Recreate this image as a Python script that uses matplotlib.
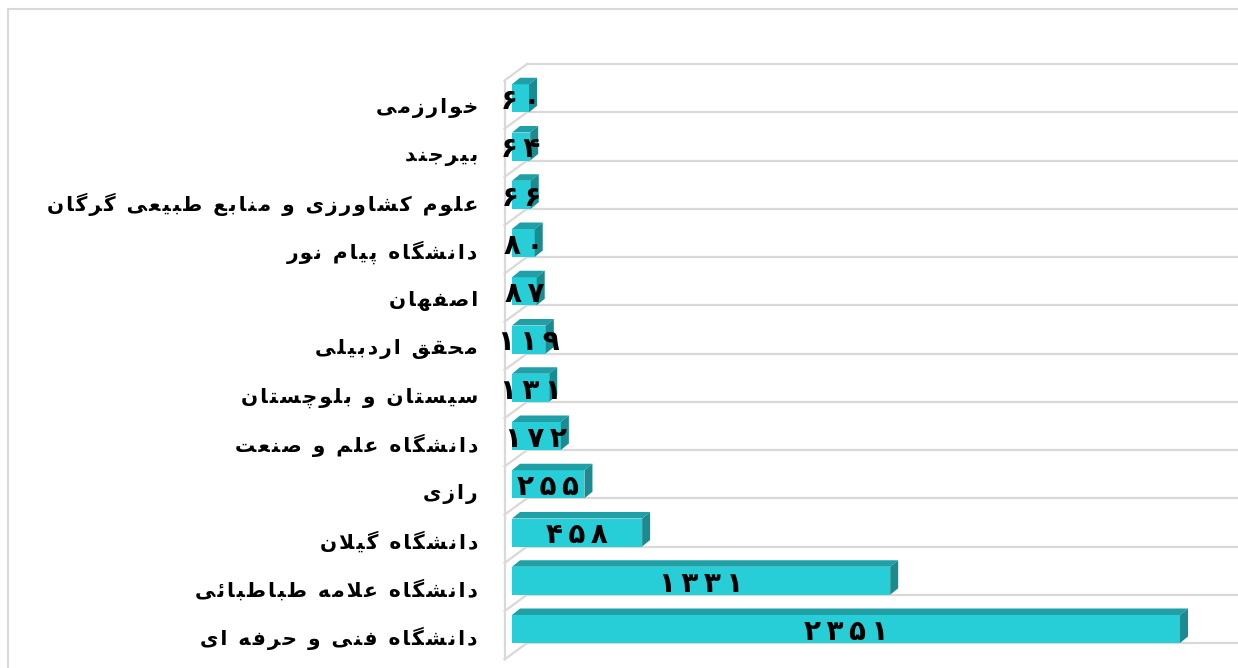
import matplotlib
matplotlib.use("Agg")
import matplotlib.pyplot as plt
from matplotlib.patches import Polygon, Rectangle

# ---------------- data ----------------
categories = [
    "خوارزمی",
    "بیرجند",
    "علوم کشاورزی و منابع طبیعی گرگان",
    "دانشگاه پیام نور",
    "اصفهان",
    "محقق اردبیلی",
    "سیستان و بلوچستان",
    "دانشگاه علم و صنعت",
    "رازی",
    "دانشگاه گیلان",
    "دانشگاه علامه طباطبائی",
    "دانشگاه فنی و حرفه ای",
]
values = [60, 64, 66, 80, 87, 119, 131, 172, 255, 458, 1331, 2351]

# ---------------- simple Arabic/Persian shaper ----------------
FORMS = {
    # char: (isolated, final, initial, medial)  None => right-joining only
    "\u0627": ("\uFE8D", "\uFE8E", None, None),
    "\u0628": ("\uFE8F", "\uFE90", "\uFE91", "\uFE92"),
    "\u062A": ("\uFE95", "\uFE96", "\uFE97", "\uFE98"),
    "\u062B": ("\uFE99", "\uFE9A", "\uFE9B", "\uFE9C"),
    "\u062C": ("\uFE9D", "\uFE9E", "\uFE9F", "\uFEA0"),
    "\u062D": ("\uFEA1", "\uFEA2", "\uFEA3", "\uFEA4"),
    "\u062E": ("\uFEA5", "\uFEA6", "\uFEA7", "\uFEA8"),
    "\u062F": ("\uFEA9", "\uFEAA", None, None),
    "\u0630": ("\uFEAB", "\uFEAC", None, None),
    "\u0631": ("\uFEAD", "\uFEAE", None, None),
    "\u0632": ("\uFEAF", "\uFEB0", None, None),
    "\u0633": ("\uFEB1", "\uFEB2", "\uFEB3", "\uFEB4"),
    "\u0634": ("\uFEB5", "\uFEB6", "\uFEB7", "\uFEB8"),
    "\u0635": ("\uFEB9", "\uFEBA", "\uFEBB", "\uFEBC"),
    "\u0636": ("\uFEBD", "\uFEBE", "\uFEBF", "\uFEC0"),
    "\u0637": ("\uFEC1", "\uFEC2", "\uFEC3", "\uFEC4"),
    "\u0638": ("\uFEC5", "\uFEC6", "\uFEC7", "\uFEC8"),
    "\u0639": ("\uFEC9", "\uFECA", "\uFECB", "\uFECC"),
    "\u063A": ("\uFECD", "\uFECE", "\uFECF", "\uFED0"),
    "\u0641": ("\uFED1", "\uFED2", "\uFED3", "\uFED4"),
    "\u0642": ("\uFED5", "\uFED6", "\uFED7", "\uFED8"),
    "\u0643": ("\uFED9", "\uFEDA", "\uFEDB", "\uFEDC"),
    "\u0644": ("\uFEDD", "\uFEDE", "\uFEDF", "\uFEE0"),
    "\u0645": ("\uFEE1", "\uFEE2", "\uFEE3", "\uFEE4"),
    "\u0646": ("\uFEE5", "\uFEE6", "\uFEE7", "\uFEE8"),
    "\u0647": ("\uFEE9", "\uFEEA", "\uFEEB", "\uFEEC"),
    "\u0648": ("\uFEED", "\uFEEE", None, None),
    "\u0649": ("\uFEEF", "\uFEF0", None, None),
    "\u064A": ("\uFEF1", "\uFEF2", "\uFEF3", "\uFEF4"),
    "\u0626": ("\uFE89", "\uFE8A", "\uFE8B", "\uFE8C"),
    "\u067E": ("\uFB56", "\uFB57", "\uFB58", "\uFB59"),
    "\u0686": ("\uFB7A", "\uFB7B", "\uFB7C", "\uFB7D"),
    "\u0698": ("\uFB8A", "\uFB8B", None, None),
    "\u06A9": ("\uFB8E", "\uFB8F", "\uFB90", "\uFB91"),
    "\u06AF": ("\uFB92", "\uFB93", "\uFB94", "\uFB95"),
    "\u06CC": ("\uFBFC", "\uFBFD", "\uFBFE", "\uFBFF"),
}


def dual(c):
    return c in FORMS and FORMS[c][2] is not None


def joins(c):
    return c in FORMS


def shape(text, gap="\u200A"):
    words = []
    for word in text.split(" "):
        out = []
        i = 0
        n = len(word)
        while i < n:
            c = word[i]
            prev = word[i - 1] if i > 0 else ""
            nxt = word[i + 1] if i + 1 < n else ""
            jp = dual(prev) and joins(c)
            if c == "\u0644" and nxt == "\u0627":
                out.append("\uFEFC" if jp else "\uFEFB")
                i += 2
                continue
            if c not in FORMS:
                out.append(c)
                i += 1
                continue
            jn = dual(c) and joins(nxt)
            iso, fin, ini, med = FORMS[c]
            if jp and jn:
                out.append(med)
            elif jp:
                out.append(fin)
            elif jn:
                out.append(ini)
            else:
                out.append(iso)
            i += 1
        words.append(gap.join(out[::-1]))
    return " \u2009".join(words[::-1])


PDIG = "۰۱۲۳۴۵۶۷۸۹"


def pnum(v):
    return "\u2009".join(PDIG[int(d)] for d in str(v))


# ---------------- figure ----------------
W, H = 1238, 668
fig = plt.figure(figsize=(W / 100, H / 100), dpi=100)
fig.patch.set_facecolor("white")

# outer chart border
fig.patches.append(Rectangle((8 / W, -0.05), 1.2, 1 - 9 / H + 0.05, transform=fig.transFigure,
                             fill=False, edgecolor="#d9d9d9", linewidth=1.5))

px_per_unit = 668 / 2351
x0_px = 512
ax_left_px, ax_right_px = 490, 1238
ax_top_px, ax_bot_px = 50, 668
row_px = 48.25
first_center_px = 98.25

ax = fig.add_axes([ax_left_px / W, 1 - ax_bot_px / H,
                   (ax_right_px - ax_left_px) / W, (ax_bot_px - ax_top_px) / H])
ax.set_xlim((ax_left_px - x0_px) / px_per_unit, (ax_right_px - x0_px) / px_per_unit)
ax.set_ylim((ax_bot_px - first_center_px) / row_px, (ax_top_px - first_center_px) / row_px)
ax.axis("off")

# 3D depth (in data units)
DX = 8 / px_per_unit
DY = 6.5 / row_px
BAR_H = 28 / row_px
grid_color = "#d9d9d9"

n = len(values)
ypos = list(range(n))

# back wall gridlines + floor diagonals + left wall
grid_off = (64 - first_center_px) / row_px
wall_back_x = (527 - x0_px) / px_per_unit
wall_front_x = (504.5 - x0_px) / px_per_unit
diag_dy = 16.5 / row_px
xmax = ax.get_xlim()[1]
for k in range(n + 1):
    yb = k + grid_off
    ax.plot([wall_back_x, xmax], [yb, yb], color=grid_color, lw=1.6, zorder=1,
            solid_capstyle="butt")
    ax.plot([wall_front_x, wall_back_x], [yb + diag_dy, yb], color=grid_color, lw=1.6,
            zorder=1)
ax.plot([wall_front_x, wall_front_x], [grid_off + diag_dy, n + grid_off + diag_dy],
        color=grid_color, lw=1.6, zorder=1)

front_c = "#27ced8"
top_c = "#1f9fa6"
side_c = "#1a8b90"

bars = ax.barh(ypos, values, height=BAR_H, color=front_c, zorder=3, linewidth=0)
for y, v in zip(ypos, values):
    top = y - BAR_H / 2
    bot = y + BAR_H / 2
    ax.add_patch(Polygon([(0, top), (DX, top - DY), (v + DX, top - DY), (v, top)],
                         closed=True, facecolor=top_c, edgecolor="none", zorder=3))
    ax.add_patch(Polygon([(v, top), (v + DX, top - DY), (v + DX, bot - DY), (v, bot)],
                         closed=True, facecolor=side_c, edgecolor="none", zorder=3))
    ax.text(v / 2, y + 0.06, pnum(v), ha="center", va="center", fontsize=20,
            fontweight="bold", color="black", family="DejaVu Sans", zorder=5)

label_x = (478 - x0_px) / px_per_unit
for y, c in zip(ypos, categories):
    ax.text(label_x, y + 0.2, shape(c), ha="right", va="center", fontsize=14.5,
            fontweight="bold", color="black", family="DejaVu Sans", zorder=5)

fig.savefig("out.png", dpi=100)
